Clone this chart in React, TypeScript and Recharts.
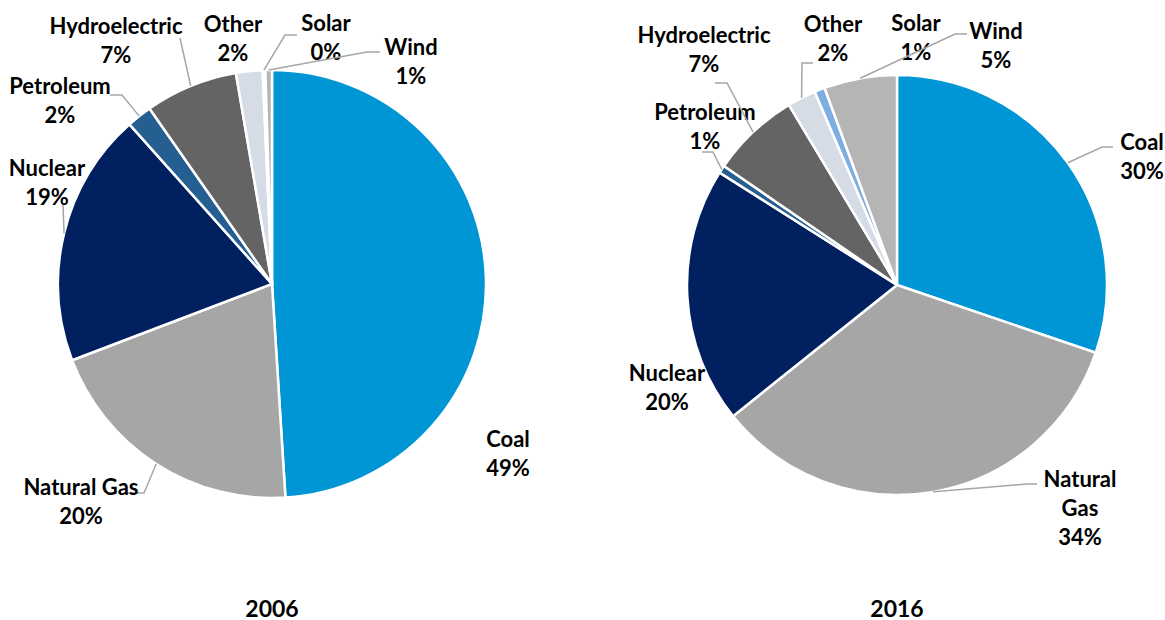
import React from 'react';
import { PieChart, Pie, Cell } from 'recharts';

const categories = ['Coal', 'Natural Gas', 'Nuclear', 'Petroleum', 'Hydroelectric', 'Other', 'Solar', 'Wind'];
const values2006 = [49.0, 20.2, 19.2, 1.9, 7.0, 2.0, 0.2, 0.5];
const values2016 = [30.2, 34.0, 19.7, 0.6, 6.8, 2.2, 0.8, 5.6];
const pctLabels2006 = ['49%', '20%', '19%', '2%', '7%', '2%', '0%', '1%'];
const pctLabels2016 = ['30%', '34%', '20%', '1%', '7%', '2%', '1%', '5%'];
const years = ['2006', '2016'];

const colors = ['#0096D6', '#A6A6A6', '#002060', '#255E91', '#646464', '#D6DCE5', '#7EAEDF', '#B5B5B5'];

const FONT = "Lato, 'Open Sans', sans-serif";
const LINE_H = 29;

type LabelLayout = {
  tx: number; ty: number; split?: boolean;
  elbow?: [number, number]; end?: [number, number];
};

// label placement relative to the pie centre (layout only, not data)
const layout2006: LabelLayout[] = [
  { tx: 236, ty: 154 },
  { tx: -191, ty: 202, elbow: [-128, 209], end: [-149, 209] },
  { tx: -225, ty: -117, elbow: [-209, -79], end: [-209, -79] },
  { tx: -212, ty: -199, elbow: [-150, -189], end: [-162, -189] },
  { tx: -156, ty: -259, elbow: [-92, -246], end: [-92, -246] },
  { tx: -39, ty: -261 },
  { tx: 54, ty: -262, elbow: [13, -249], end: [25, -249] },
  { tx: 139, ty: -238, elbow: [95, -232], end: [108, -232] },
];

const layout2016: LabelLayout[] = [
  { tx: 245, ty: -144, elbow: [205, -138], end: [216, -138] },
  { tx: 183, ty: 193, split: true, elbow: [130, 199], end: [140, 199] },
  { tx: -230, ty: 87 },
  { tx: -192, ty: -174, elbow: [-184, -133], end: [-195, -133] },
  { tx: -193, ty: -251, elbow: [-170, -202], end: [-182, -202] },
  { tx: -64, ty: -262, elbow: [-95, -222], end: [-84, -222] },
  { tx: 19, ty: -263 },
  { tx: 99, ty: -255, elbow: [58, -251], end: [70, -251] },
];

const data2006 = categories.map((name, i) => ({ name, value: values2006[i] }));
const data2016 = categories.map((name, i) => ({ name, value: values2016[i] }));

const RAD = Math.PI / 180;

function makeLabel(layout: LabelLayout[], pcts: string[]) {
  return (props: any) => {
    const { cx, cy, midAngle, outerRadius, index, name } = props;
    const l = layout[index];
    if (!l) return null;
    const lines: string[] = l.split ? String(name).split(' ') : [String(name)];
    lines.push(pcts[index]);
    const sx = cx + outerRadius * Math.cos(-midAngle * RAD);
    const sy = cy + outerRadius * Math.sin(-midAngle * RAD);
    return (
      <g>
        {l.elbow && l.end && (
          <polyline
            points={`${sx},${sy} ${cx + l.elbow[0]},${cy + l.elbow[1]} ${cx + l.end[0]},${cy + l.end[1]}`}
            fill="none"
            stroke="#A6A6A6"
            strokeWidth={1.5}
          />
        )}
        {lines.map((t, k) => (
          <text
            key={k}
            x={cx + l.tx}
            y={cy + l.ty + k * LINE_H}
            textAnchor="middle"
            dominantBaseline="central"
            fontFamily={FONT}
            fontWeight={700}
            fontSize={22}
            fill="#000"
          >
            {t}
          </text>
        ))}
      </g>
    );
  };
}

export default function App() {
  return (
    <div style={{ position: 'absolute', left: 0, top: 0, width: 1165, height: 620, background: '#fff' }}>
      <PieChart width={1165} height={620} margin={{ top: 0, right: 0, bottom: 0, left: 0 }}>
        <Pie
          data={data2006}
          dataKey="value"
          nameKey="name"
          cx={272}
          cy={284}
          outerRadius={214}
          startAngle={90}
          endAngle={-270}
          stroke="#fff"
          strokeWidth={2.5}
          labelLine={false}
          label={makeLabel(layout2006, pctLabels2006)}
          isAnimationActive={false}
        >
          {data2006.map((d, i) => (
            <Cell key={d.name} fill={colors[i]} />
          ))}
        </Pie>
        <Pie
          data={data2016}
          dataKey="value"
          nameKey="name"
          cx={897}
          cy={285}
          outerRadius={210}
          startAngle={90}
          endAngle={-270}
          stroke="#fff"
          strokeWidth={2.5}
          labelLine={false}
          label={makeLabel(layout2016, pctLabels2016)}
          isAnimationActive={false}
        >
          {data2016.map((d, i) => (
            <Cell key={d.name} fill={colors[i]} />
          ))}
        </Pie>
      </PieChart>
      {years.map((y, i) => (
        <div
          key={y}
          style={{
            position: 'absolute',
            left: i === 0 ? 172 : 797,
            top: 594,
            width: 200,
            textAlign: 'center',
            fontFamily: FONT,
            fontWeight: 700,
            fontSize: 23,
            lineHeight: '28px',
            color: '#000',
          }}
        >
          {y}
        </div>
      ))}
    </div>
  );
}
